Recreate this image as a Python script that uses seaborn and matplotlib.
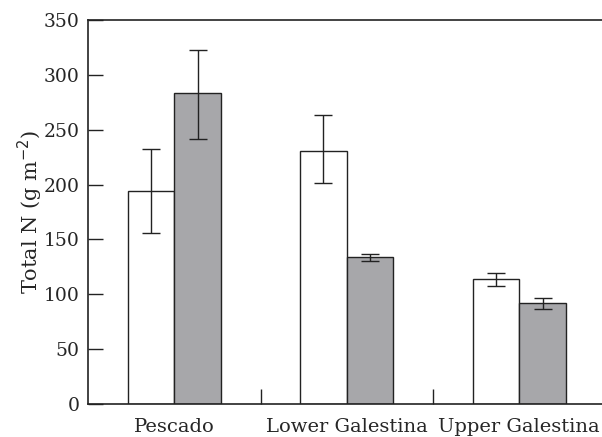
import pandas as pd
import matplotlib.pyplot as plt
import seaborn as sns

# Values
sites = ['Pescado', 'Lower Galestina', 'Upper Galestina']
open_mean = [194.5, 231, 113.7]
open_low = [156, 201, 107.6]
open_high = [232, 263, 119.7]
shaded_mean = [283.8, 134, 91.8]
shaded_low = [241.8, 130, 86.6]
shaded_high = [323, 137, 96.9]

df = pd.DataFrame({
    'site': sites * 2,
    'group': ['open'] * 3 + ['shaded'] * 3,
    'value': open_mean + shaded_mean,
})
lows = open_low + shaded_low
highs = open_high + shaded_high

sns.set_style('ticks')
plt.rcParams['font.family'] = ['DejaVu Serif']

fig = plt.figure(figsize=(6.02, 4.37), dpi=100)
ax = fig.add_axes([88 / 602, 33 / 437, 517.5 / 602, 384 / 437])

sns.barplot(data=df, x='site', y='value', hue='group', order=sites,
            hue_order=['open', 'shaded'],
            palette={'open': 'white', 'shaded': '#a7a7aa'},
            width=0.54, errorbar=None, edgecolor='#222222', linewidth=1.0,
            legend=False, ax=ax)

# error bars at bar centres
bars = [p for p in ax.patches if p.get_height() > 0]
bars = sorted(bars, key=lambda p: p.get_x())
order = [0, 3, 1, 4, 2, 5]  # sorted by x: open/shaded per site
for p, i in zip(bars, order):
    xc = p.get_x() + p.get_width() / 2
    m = df['value'][i]
    ax.errorbar(xc, m, yerr=[[m - lows[i]], [highs[i] - m]], fmt='none',
                ecolor='#222222', elinewidth=1.0, capsize=6.5, capthick=1.0)

ax.set_xlim(-0.5, 2.5)
ax.set_ylim(0, 350)
ax.set_yticks(range(0, 351, 50))
ax.set_xticks([0.5, 1.5], minor=True)
ax.tick_params(axis='y', direction='in', length=10.5, width=1.0, labelsize=13.5,
               pad=6, color='#222222')
ax.tick_params(axis='x', which='major', length=0, labelsize=14, pad=10)
ax.tick_params(axis='x', which='minor', direction='in', length=10.5, width=1.0,
               color='#222222')
ax.set_xlabel('')
ax.set_ylabel('Total N (g m$^{-2}$)', fontsize=15, labelpad=-1)

for s in ['left', 'top', 'bottom']:
    ax.spines[s].set_linewidth(1.2)
    ax.spines[s].set_color('#222222')
ax.spines['right'].set_visible(False)

fig.savefig('out.png', dpi=100)
